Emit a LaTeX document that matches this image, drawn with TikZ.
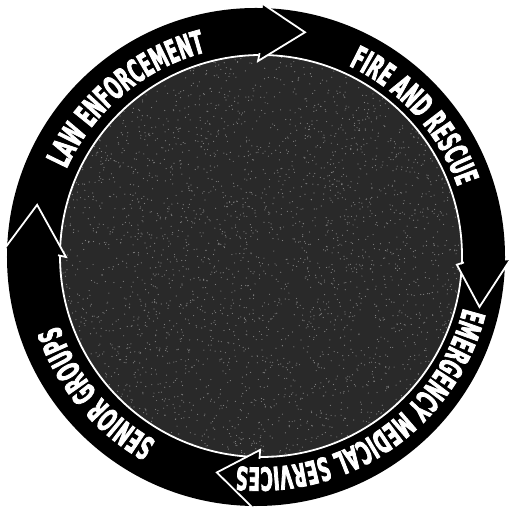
\documentclass[tikz,border=0pt]{standalone}
\usepackage{fontspec}
\newfontfamily\ringfont{DejaVu Sans}[FakeStretch=0.52,FakeBold=2.4]
\usetikzlibrary{decorations.text,calc}
\begin{document}
\begin{tikzpicture}[x=1pt,y=1pt,
  ring/.style={fill=black},
  core/.style={fill=black!84},
  rim/.style={draw=white,line width=1.8pt},
  headfill/.style={fill=black},
  headline/.style={draw=white,line width=1.8pt,line join=miter},
  speck/.style={fill=black!50}
]
\useasboundingbox (-256,-253) rectangle (257,257);
\coordinate (O) at (0,0);
\coordinate (IC) at (5,1);
\coordinate (TC) at (2.5,0.5);
% black ring
\fill[ring] (O) circle[radius=249];
% textured core
\fill[core] (IC) circle[radius=201];
\begin{scope}
  \clip (IC) circle[radius=200];
  \pgfmathsetseed{7}
  \foreach \i in {1,...,3600}{
    \pgfmathsetmacro\px{5+201*rand}
    \pgfmathsetmacro\py{1+201*rand}
    \fill[speck] (\px,\py) circle[radius=0.6];
  }
\end{scope}
\draw[rim] (IC) circle[radius=201];
% arrow heads
\coordinate (h1a) at (89:204);   \coordinate (h1b) at (89.4:196);
\coordinate (h1t) at (77.7:230); \coordinate (h1d) at (88.4:253);
\coordinate (h2a) at (-1.5:208);  \coordinate (h2b) at (-2.2:201);
\coordinate (h2t) at (-12.6:229); \coordinate (h2d) at (-0.7:254);
\coordinate (h3a) at (-89:202);    \coordinate (h3b) at (-88.8:193);
\coordinate (h3t) at (-100.3:219); \coordinate (h3d) at (-90.7:251);
\coordinate (h4a) at (179.5:198);  \coordinate (h4b) at (180:190);
\coordinate (h4t) at (166.6:225);  \coordinate (h4d) at (177.9:251);
\foreach \h in {h1,h2,h3,h4}{
  \fill[headfill] (\h b) -- (\h t) -- (\h d) -- cycle;
  \draw[headline] (\h a) -- (\h b) -- (\h t) -- (\h d);
}
% labels along the ring
\path[decorate,decoration={text along path,text align=center,
  text={|\color{white}\ringfont\bfseries\fontsize{32}{32}\selectfont|LAW ENFORCEMENT}}]
  (TC) ++(190:211) arc[start angle=190,end angle=70,radius=211];
\path[decorate,decoration={text along path,text align=center,
  text={|\color{white}\ringfont\bfseries\fontsize{32}{32}\selectfont|FIRE AND RESCUE}}]
  (TC) ++(102:211) arc[start angle=102,end angle=-18,radius=211];
\path[decorate,decoration={text along path,text align=center,
  text={|\color{white}\ringfont\bfseries\fontsize{32}{32}\selectfont|EMERGENCY MEDICAL SERVICES}}]
  (TC) ++(5:211) arc[start angle=5,end angle=-115,radius=211];
\path[decorate,decoration={text along path,text align=center,
  text={|\color{white}\ringfont\bfseries\fontsize{32}{32}\selectfont|SENIOR GROUPS}}]
  (TC) ++(-80:211) arc[start angle=-80,end angle=-200,radius=211];
\end{tikzpicture}
\end{document}
